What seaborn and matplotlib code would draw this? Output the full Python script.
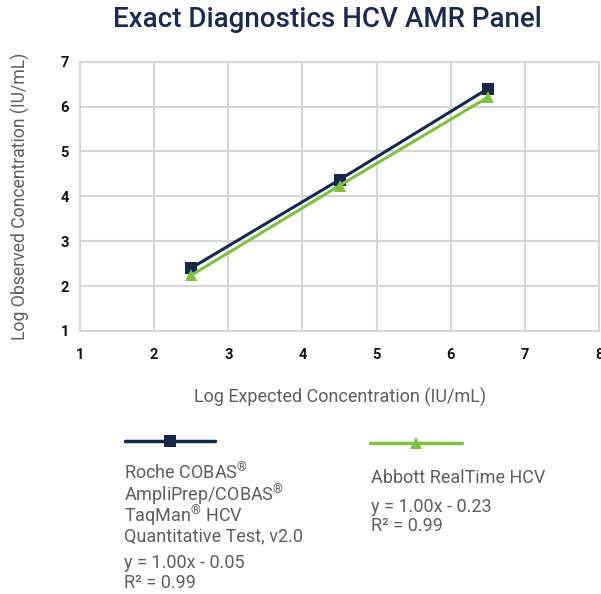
import matplotlib
matplotlib.use("Agg")
from matplotlib import pyplot as plt
from matplotlib.lines import Line2D
import pandas as pd
import seaborn as sns

# data
expected = [2.5, 4.5, 6.5]
roche_obs = [2.40, 4.37, 6.40]
abbott_obs = [2.24, 4.24, 6.21]
series_names = ["Roche", "Abbott"]

NAVY = "#13284b"
GREEN = "#7cc142"
GRID = "#d6d6d6"
GREY_TXT = "#5e5e5e"

df = pd.DataFrame({
    "expected": expected * 2,
    "observed": roche_obs + abbott_obs,
    "assay": [series_names[0]] * 3 + [series_names[1]] * 3,
})

sns.set_style("white")
plt.rcParams["font.family"] = ["Roboto", "DejaVu Sans"]
plt.rcParams["mathtext.fontset"] = "custom"
plt.rcParams["mathtext.rm"] = "Roboto"
plt.rcParams["mathtext.it"] = "Roboto"
plt.rcParams["mathtext.default"] = "regular"

fig = plt.figure(figsize=(6.01, 5.94), dpi=100)
ax = fig.add_axes([0.133, 0.443, 0.864, 0.453])

sns.lineplot(data=df, x="expected", y="observed", hue="assay", style="assay",
             palette={"Roche": NAVY, "Abbott": GREEN},
             markers={"Roche": "s", "Abbott": "^"}, dashes=False,
             markersize=9, linewidth=2.2, markeredgewidth=0, legend=False, ax=ax)

ax.set_xlim(1, 8)
ax.set_ylim(1, 7)
ax.set_xticks(range(1, 9))
ax.set_yticks(range(1, 8))
ax.grid(True, color=GRID, linewidth=1.5)
ax.set_axisbelow(True)
for s in ax.spines.values():
    s.set_color(GRID)
    s.set_linewidth(1.5)
ax.tick_params(length=0, labelsize=10.5, pad=12)
for lab in ax.get_xticklabels() + ax.get_yticklabels():
    lab.set_fontweight("bold")
    lab.set_color("#111111")
ax.tick_params(axis="y", pad=8)

ax.set_xlabel("Log Expected Concentration (IU/mL)", fontsize=13, color=GREY_TXT,
              labelpad=19)
ax.set_ylabel("Log Observed Concentration (IU/mL)", fontsize=12.7, color=GREY_TXT,
              labelpad=22)

fig.suptitle("Exact Diagnostics HCV AMR Panel", x=0.545, y=0.99, fontsize=20,
             fontweight="medium", color="#1b2b4d")

# legend blocks below the plot
h1 = Line2D([], [], color=NAVY, linewidth=2.5, marker="s", markersize=8, markeredgewidth=0)
h2 = Line2D([], [], color=GREEN, linewidth=2.5, marker="^", markersize=9, markeredgewidth=0)
fig.legend(handles=[h1], labels=[""], loc="center left", bbox_to_anchor=(0.208, 0.256),
           frameon=False, handlelength=6.5, handletextpad=0, borderpad=0, borderaxespad=0)
fig.legend(handles=[h2], labels=[""], loc="center left", bbox_to_anchor=(0.616, 0.252),
           frameon=False, handlelength=6.6, handletextpad=0, borderpad=0, borderaxespad=0)

txt = dict(fontsize=13, color=GREY_TXT, va="baseline", ha="left")
H = 594.0
# mathtext lines (with the small ®) sit ~3px higher, so their baselines are nudged down
roche_lines = ["Roche COBAS$^{®}$", "AmpliPrep/COBAS$^{®}$", "TaqMan$^{®}$ HCV",
               "Quantitative Test, v2.0", "y = 1.00x - 0.05", "R² = 0.99"]
roche_base = [480, 502, 523, 541, 568, 588]
for line, b in zip(roche_lines, roche_base):
    fig.text(0.207, 1 - b / H, line, **txt)
abbott_lines = ["Abbott RealTime HCV", "y = 1.00x - 0.23", "R² = 0.99"]
abbott_base = [483, 512, 531]
for line, b in zip(abbott_lines, abbott_base):
    fig.text(0.617, 1 - b / H, line, **txt)

fig.savefig("out.png", dpi=100)
